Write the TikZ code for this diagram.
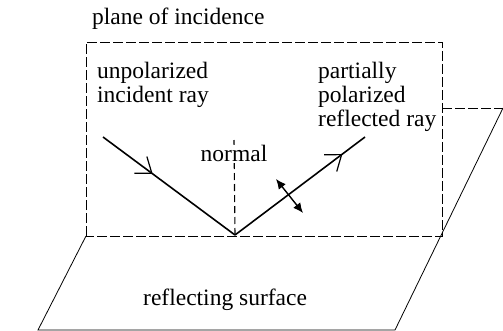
\documentclass[tikz,border=0pt]{standalone}
\usepackage{fontspec}
\setmainfont{Liberation Serif}
\usetikzlibrary{arrows.meta,decorations.markings}
\tikzset{
  frame/.style={line width=0.9pt, dash pattern=on 10pt off 3pt},
  edge/.style={line width=0.8pt},
  ray/.style={line width=1.6pt},
  midbarb/.style={postaction={decorate},decoration={markings,
     mark=at position #1 with {\draw[line width=1.2pt, line join=miter] (-14pt,10.5pt) -- (0pt,0pt) -- (-14pt,-10.5pt);}}},
  lbl/.style={font=\fontsize{23.5}{24}\selectfont, inner sep=0pt, align=left}
}
\begin{document}
\begin{tikzpicture}[x=1pt,y=-1pt]
\useasboundingbox (0,0) rectangle (503,331);
% plane of incidence
\coordinate (TL) at (86,42);
\coordinate (TR) at (442,42);
\coordinate (BR) at (442,236);
\coordinate (BL) at (86,236);
\draw[frame] (BL) -- (TL) -- (TR) -- (BR) -- cycle;
% reflecting surface
\coordinate (FR) at (503,108);
\coordinate (FRr) at (442,108);
\coordinate (SL) at (38,330);
\coordinate (SR) at (395,330);
\draw[edge] (BL) -- (SL) -- (SR) -- (FR);
\draw[frame] (FRr) -- (FR);
% rays
\coordinate (P) at (235,235);
\coordinate (A) at (103,137);
\coordinate (B) at (365,137);
\draw[ray, midbarb=0.37] (A) -- (P);
\draw[ray, midbarb=0.82] (P) -- (B);
% normal
\coordinate (N) at (234,140);
\draw[line width=1.1pt, dash pattern=on 7pt off 4pt] (P) -- (N);
\node[lbl, fill=white, inner sep=1pt, anchor=base] (normal) at (234,162) {normal};
% polarization double arrow
\coordinate (D1) at (276,179);
\coordinate (D2) at (303,213);
\draw[line width=1.4pt, {Latex[length=10pt,width=9pt]}-{Latex[length=10pt,width=9pt]}] (D1) -- (D2);
% labels
\node[lbl, anchor=base west] (poi) at (92,25) {plane of incidence};
\node[lbl, anchor=north west] (inc) at (97,62) {unpolarized\\incident ray};
\node[lbl, anchor=north west] (refl) at (318,62) {partially\\polarized\\reflected ray};
\node[lbl, anchor=base west] (surf) at (143,305) {reflecting surface};
\end{tikzpicture}
\end{document}
